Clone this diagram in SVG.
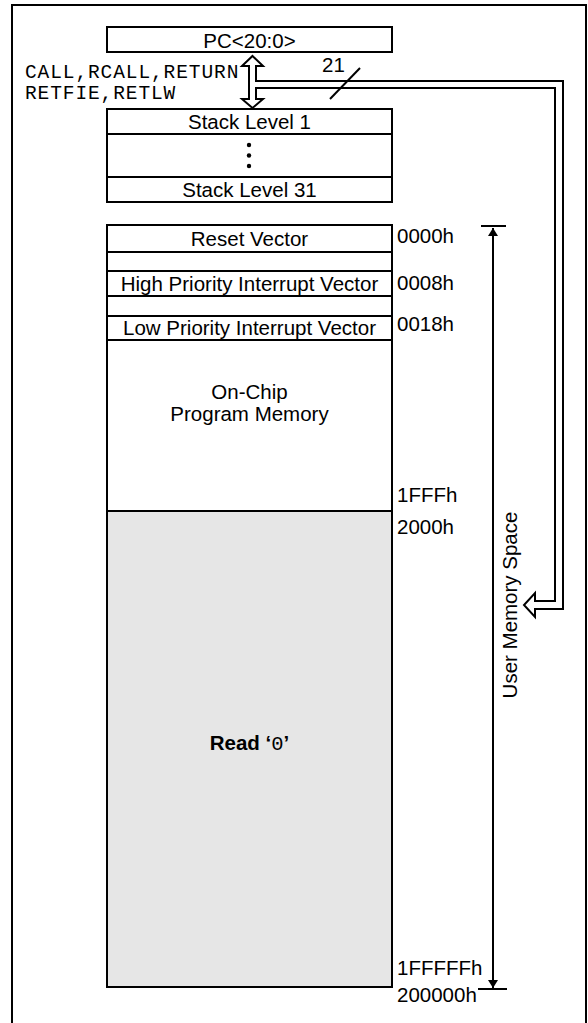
<svg xmlns="http://www.w3.org/2000/svg" width="588" height="1023" viewBox="0 0 588 1023">
<style>
.box{fill:#fff;stroke:#000;stroke-width:2}
.ln{stroke:#000;stroke-width:2;fill:none}
.t{font-family:"Liberation Sans",Arial,sans-serif;font-size:20.5px;fill:#000}
.c{text-anchor:middle}
.m{font-family:"Liberation Mono","Courier New",monospace;font-size:19.5px;letter-spacing:0.9px;fill:#000}
</style>
<defs>
<marker id="ah" viewBox="0 0 8 10" refX="8" refY="5" markerWidth="8" markerHeight="10" markerUnits="userSpaceOnUse" orient="auto">
<path d="M0,0 L8,5 L0,10 Z" fill="#000"/>
</marker>
</defs>
<rect x="0" y="0" width="588" height="1023" fill="#fff"/>
<rect x="12" y="5" width="574" height="1030" fill="none" stroke="#000" stroke-width="2"/>

<g id="pc">
<rect class="box" x="107" y="27" width="285" height="25"/>
<text class="t c" x="249.5" y="48">PC&lt;20:0&gt;</text>
</g>

<g id="instr">
<text class="m" x="25" y="78">CALL,RCALL,RETURN</text>
<text class="m" x="25" y="99">RETFIE,RETLW</text>
</g>

<g id="stack">
<rect class="box" x="107" y="109" width="285" height="93"/>
<line class="ln" x1="107" y1="134" x2="392" y2="134"/>
<line class="ln" x1="107" y1="177" x2="392" y2="177"/>
<text class="t c" x="249.5" y="129">Stack Level 1</text>
<circle cx="249" cy="145" r="2.2"/>
<circle cx="249" cy="155.5" r="2.2"/>
<circle cx="249" cy="166" r="2.2"/>
<text class="t c" x="249.5" y="197">Stack Level 31</text>
</g>

<g id="memory">
<rect x="107" y="511" width="285" height="476" fill="#e6e6e6"/>
<rect x="107" y="225" width="285" height="762" fill="none" stroke="#000" stroke-width="2"/>
<line class="ln" x1="107" y1="252" x2="392" y2="252"/>
<line class="ln" x1="107" y1="271" x2="392" y2="271"/>
<line class="ln" x1="107" y1="296" x2="392" y2="296"/>
<line class="ln" x1="107" y1="316" x2="392" y2="316"/>
<line class="ln" x1="107" y1="340" x2="392" y2="340"/>
<line class="ln" x1="107" y1="511" x2="392" y2="511"/>
<text class="t c" x="249.5" y="246">Reset Vector</text>
<text class="t c" x="249.5" y="291">High Priority Interrupt Vector</text>
<text class="t c" x="249.5" y="335">Low Priority Interrupt Vector</text>
<text class="t c" x="249.5" y="399">On-Chip</text>
<text class="t c" x="249.5" y="421">Program Memory</text>
<text class="t c" x="249.5" y="750"><tspan font-weight="bold">Read ‘</tspan><tspan font-family="Liberation Mono,Courier New,monospace">0</tspan><tspan font-weight="bold">’</tspan></text>
</g>

<g id="addresses">
<text class="t" x="397" y="243">0000h</text>
<text class="t" x="397" y="290">0008h</text>
<text class="t" x="397" y="331">0018h</text>
<text class="t" x="397" y="502">1FFFh</text>
<text class="t" x="397" y="534">2000h</text>
<text class="t" x="397" y="975">1FFFFFh</text>
<text class="t" x="397" y="1002">200000h</text>
</g>

<g id="connectors">
<path d="M252.5,56 L263,66 L256,66 L256,81 L563,81 L563,609 L535,609 L535,617 L524,605 L535,593 L535,601 L555,601 L555,88 L256,88 L256,99 L263,99 L252.5,108 L242,99 L249,99 L249,66 L242,66 Z" fill="#fff" stroke="#000" stroke-width="2" stroke-linejoin="miter"/>
<line class="ln" x1="330" y1="99" x2="360" y2="68"/>
<text class="t" x="322" y="72">21</text>
<line class="ln" x1="481" y1="226" x2="506" y2="226"/>
<line class="ln" x1="478" y1="989" x2="507" y2="989"/>
<line class="ln" x1="493" y1="600" x2="493" y2="228" marker-end="url(#ah)"/>
<line class="ln" x1="493" y1="600" x2="493" y2="988" marker-end="url(#ah)"/>
<text class="t c" transform="translate(517,605) rotate(-90)">User Memory Space</text>
</g>
</svg>
